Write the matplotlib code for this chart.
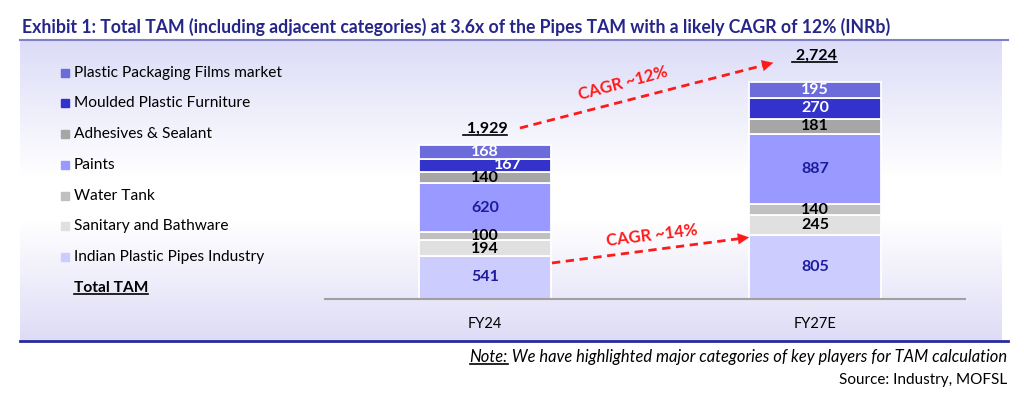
import matplotlib.pyplot as plt
import numpy as np
from matplotlib.colors import LinearSegmentedColormap
from matplotlib.lines import Line2D
from matplotlib.patches import Rectangle

years = ["FY24", "FY27E"]
segment_names = [
    "Indian Plastic Pipes Industry",
    "Sanitary and Bathware",
    "Water Tank",
    "Paints",
    "Adhesives & Sealant",
    "Moulded Plastic Furniture",
    "Plastic Packaging Films market",
]
pipes = [541, 805]
sanitary = [194, 245]
water_tank = [100, 140]
paints = [620, 887]
adhesives = [140, 181]
furniture = [167, 270]
packaging = [168, 195]
totals = [1929, 2724]
cagr_labels = ["CAGR ~12%", "CAGR ~14%"]

# styling
font = "Lato"
seg_colors = ["#ccccff", "#e0e0e0", "#c0c0c0", "#9999ff", "#a6a6a6", "#3333cc", "#6b6bdb"]
label_colors = ["#1c1c9c", "black", "black", "#1c1c9c", "black", "white", "white"]
title_color = "#26268a"
red = "#ff1a1a"
W, H = 1024, 395

plt.rcParams["font.family"] = [font, "DejaVu Sans"]
fig = plt.figure(figsize=(W / 100, H / 100), dpi=100)


def fx(px):
    return px / W


def fy(py):
    return 1 - py / H


# gradient panel
bg = fig.add_axes([fx(20), fy(341), fx(982), (341 - 40) / H], zorder=0)
grad_cmap = LinearSegmentedColormap.from_list(
    "bg", [(0, "#dcdcf8"), (0.45, "#ffffff"), (0.6, "#ffffff"), (1, "#dedcf6")]
)
bg.imshow(np.linspace(0, 1, 200).reshape(-1, 1), aspect="auto", cmap=grad_cmap,
          extent=[0, 1, 0, 1])
bg.axis("off")

fig.add_artist(Line2D([fx(20), fx(1008)], [fy(40), fy(40)], color="#8080c4", lw=1.5))
fig.add_artist(Line2D([fx(20), fx(1008)], [fy(341), fy(341)], color="#2a2aa0", lw=2))

fig.text(fx(22), fy(27), "Exhibit 1: Total TAM (including adjacent categories) at 3.6x of the Pipes TAM "
         "with a likely CAGR of 12% (INRb)", fontsize=12.7, fontweight="bold",
         color=title_color, ha="left", va="center")

# main chart
ax = fig.add_axes([fx(325), fy(299), fx(640), 239 / H], zorder=2)
ax.patch.set_alpha(0)
x = np.arange(len(years))
series = [pipes, sanitary, water_tank, paints, adhesives, furniture, packaging]
bottom = np.zeros(len(years))
label_dx = {(5, 0): 0.07}
label_dy = {(1, 0): -12, (2, 0): 12}
for k, vals in enumerate(series):
    vals = np.array(vals)
    ax.bar(x, vals, bottom=bottom, width=0.4, color=seg_colors[k],
           edgecolor="white", linewidth=1.3)
    for i, v in enumerate(vals):
        ax.text(x[i] + label_dx.get((k, i), 0), bottom[i] + v / 2 + label_dy.get((k, i), 0),
                f"{v:,}", ha="center", va="center", fontsize=11.5, fontweight="bold",
                color=label_colors[k])
    bottom += vals

ax.set_xlim(-0.485, 1.455)
ax.set_ylim(0, 3000)
ax.set_yticks([])
ax.set_xticks(x)
ax.set_xticklabels(years, fontsize=10.5)
ax.tick_params(axis="x", length=0, pad=13)
for s in ["top", "right", "left"]:
    ax.spines[s].set_visible(False)
ax.spines["bottom"].set_color("#a0a0a0")
ax.spines["bottom"].set_linewidth(1.5)

total_texts = []
total_offsets = [7, 14]
for i, t in enumerate(totals):
    total_texts.append(ax.annotate(f" {t:,}", (x[i], t), xytext=(0, total_offsets[i]),
                                   textcoords="offset points", ha="center", va="bottom",
                                   fontsize=11.5, fontweight="bold"))

# CAGR arrows
arrows = [((0.106, 2146), (0.882, 2974), (0.418, 2710), 15),
          ((0.203, 452), (0.809, 778), (0.506, 803), 7)]
for lab, (p0, p1, tp, rot) in zip(cagr_labels, arrows):
    slope = (p1[1] - p0[1]) / (p1[0] - p0[0])
    ax.plot([p0[0], p1[0] - 0.03], [p0[1], p1[1] - 0.03 * slope],
            color=red, lw=2, linestyle=(0, (3, 2)), clip_on=False)
    back = (p1[0] - 0.05, p1[1] - 0.05 * slope)
    ax.annotate("", xy=p1, xytext=back,
                arrowprops=dict(arrowstyle="-|>,head_length=0.8,head_width=0.4",
                                color=red, lw=0.1))
    ax.text(tp[0], tp[1], lab, rotation=rot, ha="center", va="center", color=red,
            fontsize=12, fontweight="bold", rotation_mode="anchor")

# legend
leg_rows = [73, 103, 134, 165, 196, 226, 257]
for k, py in enumerate(leg_rows):
    idx = len(segment_names) - 1 - k
    fig.add_artist(Rectangle((fx(61), fy(py + 4)), fx(8), 8 / H, color=seg_colors[idx]))
    fig.text(fx(74), fy(py), segment_names[idx], fontsize=11.2, va="center", ha="left")
total_tam = fig.text(fx(74), fy(288), "Total TAM", fontsize=11.2, fontweight="bold",
                     va="center", ha="left")

# footer
rest = fig.text(fx(1007), fy(357), " We have highlighted major categories of key players for TAM calculation",
                fontsize=11.9, style="italic", ha="right", va="center")
fig.text(fx(1007), fy(380), "Source: Industry, MOFSL", fontsize=11, ha="right", va="center")

fig.canvas.draw()
r = fig.canvas.get_renderer()
bb = rest.get_window_extent(r)
note = fig.text(bb.x0 / W, fy(357), "Note:", fontsize=11.9, style="italic", ha="right", va="center")


def underline(t):
    b = t.get_window_extent(r)
    yy = (b.y0 + 1) / H
    fig.add_artist(Line2D([b.x0 / W, b.x1 / W], [yy, yy], color="black", lw=1.2))


for t in total_texts + [total_tam, note]:
    underline(t)

fig.savefig("out.png", dpi=100)
